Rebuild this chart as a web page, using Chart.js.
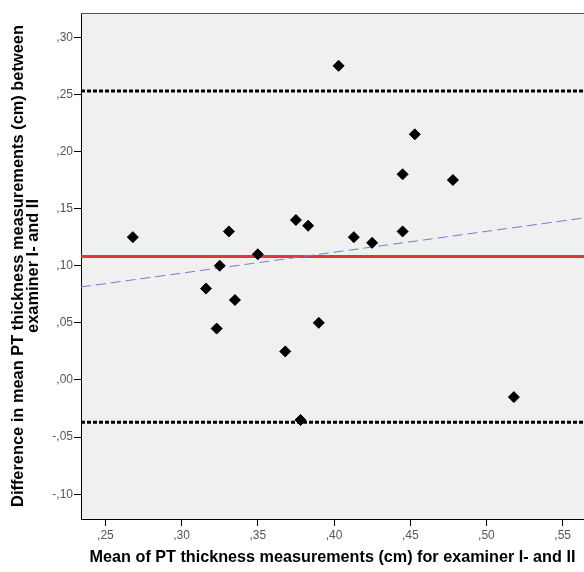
<!DOCTYPE html>
<html>
<head>
<meta charset="utf-8">
<script src="https://cdn.jsdelivr.net/npm/chart.js@4"></script>
<style>
  html, body { margin: 0; padding: 0; background: #fff; }
  #wrap { width: 584px; height: 572px; }
</style>
</head>
<body>
<div id="wrap"><canvas id="bland"></canvas></div>
<script>
// Bland-Altman plot, PT thickness, examiner I vs II

// mean of the two examiners (x) and their difference (y), one entry per subject
var xMean = [0.268, 0.316, 0.323, 0.335, 0.368, 0.378, 0.390, 0.518, 0.331, 0.325,
             0.350, 0.375, 0.403, 0.383, 0.413, 0.425, 0.445, 0.445, 0.453, 0.478];
var yDiff = [0.125, 0.080, 0.045, 0.070, 0.025, -0.035, 0.050, -0.015, 0.130, 0.100,
             0.110, 0.140, 0.275, 0.135, 0.125, 0.120, 0.130, 0.180, 0.215, 0.175];

var meanDiff = 0.108;
var loaUpper = 0.253;
var loaLower = -0.037;

// fitted regression line, ends at the axis bounds
var regX = [0.234, 0.564];
var regY = [0.0814, 0.1418];

var xRange = [0.234, 0.564];
var yRange = [-0.1217, 0.3212];

var xTicks = [0.25, 0.30, 0.35, 0.40, 0.45, 0.50, 0.55];
var xTickLabels = [',25', ',30', ',35', ',40', ',45', ',50', ',55'];
var yTicks = [-0.10, -0.05, 0.00, 0.05, 0.10, 0.15, 0.20, 0.25, 0.30];
var yTickLabels = ['-,10', '-,05', ',00', ',05', ',10', ',15', ',20', ',25', ',30'];

function hLine(v) {
  return [{ x: xRange[0], y: v }, { x: xRange[1], y: v }];
}

var plotBg = {
  id: 'plotBg',
  beforeDraw: function (chart) {
    var a = chart.chartArea, ctx = chart.ctx;
    ctx.save();
    ctx.fillStyle = '#F0F0F0';
    ctx.fillRect(a.left, a.top, a.right - a.left, a.bottom - a.top);
    ctx.restore();
  },
  afterDraw: function (chart) {
    var a = chart.chartArea, ctx = chart.ctx;
    ctx.save();
    ctx.strokeStyle = '#555';
    ctx.lineWidth = 1;
    ctx.beginPath();
    ctx.moveTo(a.left, a.top + 0.5);
    ctx.lineTo(a.right, a.top + 0.5);
    ctx.stroke();
    ctx.restore();
  }
};

var tickFont = { family: "'Liberation Sans', Arial, sans-serif", size: 12 };
var xTitleFont = { family: "'Liberation Sans', Arial, sans-serif", size: 16.2, weight: 'bold', lineHeight: 1.1 };
var yTitleFont = { family: "'Liberation Sans', Arial, sans-serif", size: 16.4, weight: 'bold', lineHeight: 0.92 };

var ctx = document.getElementById('bland').getContext('2d');
new Chart(ctx, {
  type: 'scatter',
  data: {
    datasets: [
      {
        label: 'subjects',
        data: xMean.map(function (x, i) { return { x: x, y: yDiff[i] }; }),
        pointStyle: 'rectRot', pointRadius: 5.5, pointBorderWidth: 1,
        backgroundColor: '#000', borderColor: '#000', showLine: false
      },
      {
        label: 'regression',
        data: regX.map(function (x, i) { return { x: x, y: regY[i] }; }),
        showLine: true, pointRadius: 0, borderColor: '#7A7AD0', borderWidth: 1,
        borderDash: [10, 5], fill: false
      },
      {
        label: 'mean',
        data: hLine(meanDiff),
        showLine: true, pointRadius: 0, borderColor: '#E5333B', borderWidth: 3, fill: false
      },
      {
        label: 'upper LoA',
        data: hLine(loaUpper),
        showLine: true, pointRadius: 0, borderColor: '#000', borderWidth: 3,
        borderDash: [4, 2], borderCapStyle: 'butt', fill: false
      },
      {
        label: 'lower LoA',
        data: hLine(loaLower),
        showLine: true, pointRadius: 0, borderColor: '#000', borderWidth: 3,
        borderDash: [4, 2], borderCapStyle: 'butt', fill: false
      }
    ]
  },
  options: {
    responsive: true, maintainAspectRatio: false, animation: false,
    layout: { autoPadding: false, padding: { top: 13, left: 0, right: 0, bottom: 0 } },
    plugins: { legend: { display: false }, tooltip: { enabled: false } },
    scales: {
      x: {
        type: 'linear', min: xRange[0], max: xRange[1],
        afterFit: function (s) { s.height = 53; s.paddingLeft = 0; s.paddingRight = 0; },
        afterBuildTicks: function (s) { s.ticks = xTicks.map(function (v) { return { value: v }; }); },
        grid: { drawOnChartArea: false, drawTicks: true, tickLength: 7, color: '#000' },
        border: { display: true, color: '#000', width: 1 },
        ticks: {
          color: '#555', font: tickFont, padding: 2, maxRotation: 0, autoSkip: false,
          callback: function (v) { return xTickLabels[xTicks.indexOf(v)]; }
        },
        title: {
          display: true, text: 'Mean of PT thickness measurements (cm) for examiner I- and II',
          color: '#000', font: xTitleFont, padding: { top: 0, bottom: 5.5 }
        }
      },
      y: {
        type: 'linear', min: yRange[0], max: yRange[1],
        afterFit: function (s) { s.width = 81; s.paddingTop = 0; s.paddingBottom = 0; },
        afterBuildTicks: function (s) { s.ticks = yTicks.map(function (v) { return { value: v }; }); },
        grid: { drawOnChartArea: false, drawTicks: true, tickLength: 7, color: '#000' },
        border: { display: true, color: '#000', width: 1 },
        ticks: {
          color: '#555', font: tickFont, padding: 1, autoSkip: false,
          callback: function (v) { return yTickLabels[yTicks.indexOf(v)]; }
        },
        title: {
          display: true,
          text: ['Difference in mean PT thickness measurements (cm) between', 'examiner I- and II'],
          color: '#000', font: yTitleFont, padding: { top: 11, bottom: 0 }
        }
      }
    }
  },
  plugins: [plotBg]
});
</script>
</body>
</html>
